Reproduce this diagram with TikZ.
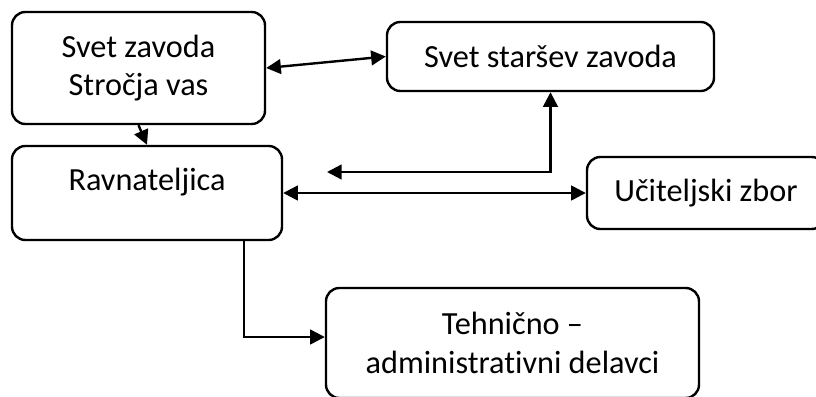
\documentclass[tikz,border=0pt]{standalone}
\usepackage{fontspec}
\setmainfont{Carlito}[Ligatures=NoCommon]
\usetikzlibrary{arrows.meta}
\tikzset{
  unit/.style={draw, line width=1.8pt, rounded corners=10pt, align=center,
    font=\fontsize{24.2}{29}\selectfont},
  link/.style={line width=1.8pt, {Triangle[length=11pt,width=11pt]}-{Triangle[length=11pt,width=11pt]}},
  tolink/.style={line width=1.8pt, -{Triangle[length=11pt,width=11pt]}}
}
\newcommand\orgunit[5]{\node[unit, minimum width=#3, minimum height=#4] (#1) at (#2) {#5};}

\begin{document}
\begin{tikzpicture}[x=0.75pt, y=-0.75pt]
\useasboundingbox (0,0) rectangle (816,396);
\clip (0,0) rectangle (816,396);
\orgunit{svet}{138.5,68}{189.75pt}{84pt}{Svet zavoda\\Stročja vas}
\node[unit, minimum width=202.5pt, minimum height=70.5pt, text depth=20pt] (ravn) at (147,193) {Ravnateljica};
\orgunit{starsi}{550.5,56.5}{245.25pt}{51.75pt}{Svet staršev zavoda}
\orgunit{zbor}{706,193}{178.5pt}{54pt}{Učiteljski zbor}
\orgunit{tehn}{512.5,343}{279.75pt}{82.5pt}{Tehnično –\\administrativni delavci}
\coordinate (prosto) at (327,172);
\coordinate (izhod) at (162,240);
\draw[link] (svet.east) -- (starsi.west);
\draw[tolink] (svet.south) -- (ravn.north);
\draw[link] (prosto) -- (prosto -| starsi.south) -- (starsi.south);
\draw[link] (ravn.east) -- (zbor.west);
\draw[tolink] (izhod) -- ++(82,0) |- ([yshift=4.5pt]tehn.west);
\end{tikzpicture}
\end{document}
